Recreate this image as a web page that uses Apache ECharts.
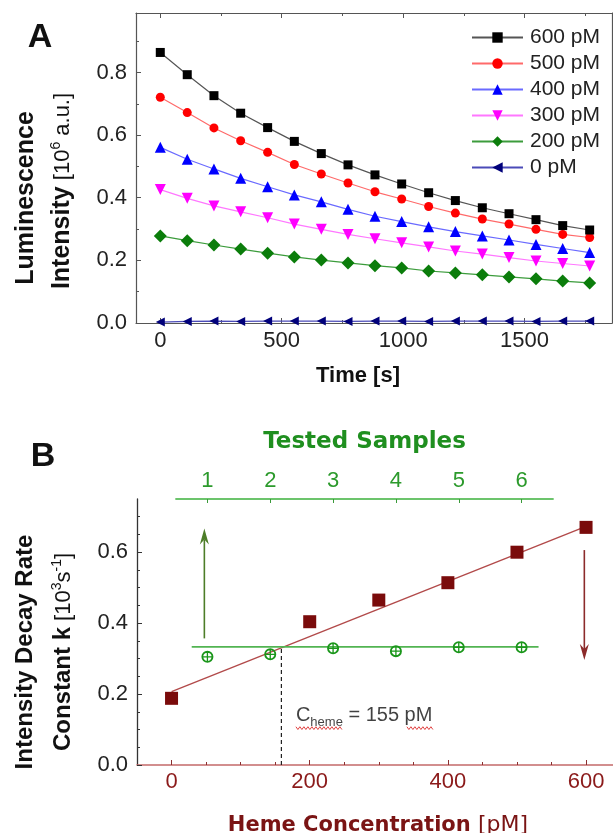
<!DOCTYPE html>
<html><head><meta charset="utf-8">
<script src="https://cdn.jsdelivr.net/npm/echarts@6/dist/echarts.min.js"></script>
<style>html,body{margin:0;padding:0;background:#fff}#c{width:613px;height:833px}</style>
</head><body><div id="c"></div>
<script>
// ---------- Panel A data ----------
const timeS = [0,111,221,331,442,552,663,773,884,994,1105,1215,1326,1436,1547,1657,1768];
const seriesNamesA = ['600 pM','500 pM','400 pM','300 pM','200 pM','0 pM'];
const lum600 = [0.864,0.793,0.726,0.670,0.624,0.580,0.541,0.505,0.473,0.444,0.416,0.391,0.368,0.349,0.330,0.311,0.297];
const lum500 = [0.721,0.672,0.623,0.582,0.545,0.506,0.476,0.447,0.419,0.396,0.372,0.351,0.332,0.316,0.299,0.283,0.273];
const lum400 = [0.561,0.523,0.492,0.462,0.435,0.409,0.387,0.363,0.341,0.324,0.307,0.292,0.278,0.265,0.251,0.238,0.225];
const lum300 = [0.426,0.398,0.374,0.355,0.336,0.316,0.299,0.283,0.269,0.256,0.243,0.230,0.220,0.209,0.198,0.190,0.182];
const lum200 = [0.278,0.263,0.249,0.236,0.223,0.211,0.201,0.192,0.183,0.176,0.166,0.160,0.154,0.147,0.141,0.134,0.128];
const lum0   = [0.003,0.005,0.006,0.005,0.006,0.006,0.006,0.005,0.006,0.006,0.005,0.006,0.006,0.006,0.005,0.006,0.006];
const aXTicks = [0,500,1000,1500];
const aXMinor = [250,750,1250,1750];
const aYTicks = [0,0.2,0.4,0.6,0.8];
const aYMinor = [0.1,0.3,0.5,0.7,0.9];

// ---------- Panel B data ----------
const hemeConc = [0,200,300,400,500,600];
const decayK   = [0.188,0.404,0.465,0.514,0.600,0.670];
const fitLine  = [[0,0.207],[600,0.673]];
const sampleIdx = [1,2,3,4,5,6];
const sampleK   = [0.305,0.312,0.329,0.321,0.332,0.332];
const sampleLevel = [[0.75,0.333],[6.27,0.333]];
const cHemeX = 159, cHemeK = 0.331;
const cHemeLabelAt = [180,0.135];
const arrowsB = [[47.5,0.357,0.667],[597.5,0.606,0.296]]; // x, from, to
const bXTicks = [0,200,400,600];
const bXMinor = [50,100,150,250,300,350,450,500,550];
const bYTicks = [0,0.2,0.4,0.6];
const bYMinor = [0.05,0.1,0.15,0.25,0.3,0.35,0.45,0.5,0.55,0.65,0.7];

// ---------- styles ----------
const FONT = 'Liberation Sans, Arial, sans-serif';
const colorsA = ['#000000','#ff0000','#0000ff','#ff00ff','#0b7d0b','#00007a'];
const lineColorsA = ['#555555','#ff6a6a','#6a6aff','#ff77ff','#3c9c3c','#4b4bb8'];
const symbolsA = ['rect','circle','triangle','path://M0,0 L10,0 L5,9 Z','diamond','path://M0,5 L9,0 L9,10 Z'];
const symSizesA = [9,9,11,11,13,9];
const arrowColors = ['#4d7d28','#8c2b2b'];
const squiggleRuns = [[0,47],[111,137]]; // pixel runs under "heme" and "pM", relative to label anchor

const chart = echarts.init(document.getElementById('c'), null, {renderer:'canvas'});

function xAx(o){ return Object.assign({type:'value', splitLine:{show:false}, axisLabel:{show:false}, axisTick:{show:false}, axisLine:{show:false, onZero:false}}, o); }
function yAx(o){ return Object.assign({type:'value', splitLine:{show:false}, axisLabel:{show:false}, axisTick:{show:false}, axisLine:{show:false, onZero:false}}, o); }

const plain = v => String(v);
const frameA = {onZero:false, show:true, lineStyle:{color:'#555', width:1.2}};
const xAxes = [
  xAx({gridIndex:0, position:'bottom', min:-100, max:1860, axisLine:frameA,
       axisTick:{show:true, inside:true, length:5, customValues:aXTicks, lineStyle:{color:'#555'}},
       axisLabel:{show:true, customValues:aXTicks, formatter:plain, fontSize:22, color:'#222', margin:7, fontFamily:FONT}}),
  xAx({gridIndex:0, position:'bottom', min:-100, max:1860,
       axisTick:{show:true, inside:true, length:3, customValues:aXMinor, lineStyle:{color:'#555'}}}),
  xAx({gridIndex:0, position:'top', min:-100, max:1860, axisLine:frameA,
       axisTick:{show:true, inside:true, length:5, customValues:aXTicks, lineStyle:{color:'#555'}}}),
  xAx({gridIndex:0, position:'top', min:-100, max:1860,
       axisTick:{show:true, inside:true, length:3, customValues:aXMinor, lineStyle:{color:'#555'}}}),
  // B bottom (index 4,5)
  xAx({gridIndex:1, position:'bottom', min:-50, max:639,
       axisLine:{show:true, onZero:false, lineStyle:{color:'#c46a6a', width:1.5}},
       axisTick:{show:true, inside:true, length:5, customValues:bXTicks, lineStyle:{color:'#8a3030'}},
       axisLabel:{show:true, customValues:bXTicks, formatter:plain, fontSize:22, color:'#8b1a1a', margin:6, fontFamily:FONT}}),
  xAx({gridIndex:1, position:'bottom', min:-50, max:639,
       axisTick:{show:true, inside:true, length:3, customValues:bXMinor, lineStyle:{color:'#8a3030'}}}),
  // Samples top axis (index 6)
  xAx({gridIndex:2, position:'top', min:0.5, max:6.5,
       axisLine:{show:true, onZero:false, lineStyle:{color:'#6cc46c', width:1.8}},
       axisTick:{show:true, inside:true, length:4, customValues:sampleIdx, lineStyle:{color:'#3a9a3a'}},
       axisLabel:{show:true, customValues:sampleIdx, formatter:plain, fontSize:22, color:'#2c9a2c', margin:7, fontFamily:FONT},
       name:'Tested Samples', nameLocation:'middle', nameGap:45,
       nameTextStyle:{fontFamily:'DejaVu Sans', fontWeight:'bold', fontSize:23, color:'#1f8f1f'}})
];
const yAxes = [
  yAx({gridIndex:0, position:'left', min:0, max:0.99, axisLine:frameA,
       axisTick:{show:true, inside:true, length:5, customValues:aYTicks, lineStyle:{color:'#555'}},
       axisLabel:{show:true, customValues:aYTicks, formatter:v=>v.toFixed(1), fontSize:22, color:'#222', margin:9, fontFamily:FONT}}),
  yAx({gridIndex:0, position:'left', min:0, max:0.99,
       axisTick:{show:true, inside:true, length:3, customValues:aYMinor, lineStyle:{color:'#555'}}}),
  yAx({gridIndex:0, position:'right', min:0, max:0.99, axisLine:frameA}),
  // B left (3,4)
  yAx({gridIndex:1, position:'left', min:0, max:0.75,
       axisLine:{show:true, onZero:false, lineStyle:{color:'#333', width:1.3}},
       axisTick:{show:true, inside:true, length:5, customValues:bYTicks, lineStyle:{color:'#333'}},
       axisLabel:{show:true, customValues:bYTicks, formatter:v=>v.toFixed(1), fontSize:22, color:'#222', margin:9, fontFamily:FONT}}),
  yAx({gridIndex:1, position:'left', min:0, max:0.75,
       axisTick:{show:true, inside:true, length:3, customValues:bYMinor, lineStyle:{color:'#333'}}}),
  // samples grid y (5)
  yAx({gridIndex:2, position:'left', min:0, max:0.75, show:false})
];

const lumSets = [lum600, lum500, lum400, lum300, lum200, lum0];
const seriesA = lumSets.map((vals, k) => ({
  name: seriesNamesA[k], type:'line', xAxisIndex:0, yAxisIndex:0,
  data: timeS.map((t,i)=>[t, vals[i]]),
  symbol: symbolsA[k], symbolSize: symSizesA[k], showAllSymbol:true,
  itemStyle:{color: colorsA[k], opacity:1},
  lineStyle:{color: lineColorsA[k], width:1.2},
  z: 10 - k
}));

const circlePlus = 'path://M10,0 A10,10 0 1,1 10,20 A10,10 0 1,1 10,0 Z M10,3 A7,7 0 1,0 10,17 A7,7 0 1,0 10,3 Z M2,8.9 L18,8.9 L18,11.1 L2,11.1 Z M8.9,2 L11.1,2 L11.1,18 L8.9,18 Z';

const seriesB = [
  {type:'line', xAxisIndex:4, yAxisIndex:3, data:fitLine, showSymbol:false, symbol:'none',
   lineStyle:{color:'#b24a4a', width:1.4}, z:3},
  {type:'scatter', xAxisIndex:4, yAxisIndex:3, data:hemeConc.map((c,i)=>[c, decayK[i]]),
   symbol:'rect', symbolSize:13, itemStyle:{color:'#7a0b0b', opacity:1}, z:5},
  {type:'line', xAxisIndex:4, yAxisIndex:3, data:[[cHemeX,0],[cHemeX,cHemeK]], symbol:'none',
   lineStyle:{color:'#222', width:1.2, type:[4,3]}, z:2},
  {type:'line', xAxisIndex:6, yAxisIndex:5, data:sampleLevel, symbol:'none',
   lineStyle:{color:'#52b452', width:1.8}, z:3},
  {type:'scatter', xAxisIndex:6, yAxisIndex:5, data:sampleIdx.map((s,i)=>[s, sampleK[i]]),
   symbol:circlePlus, symbolSize:12, itemStyle:{color:'#1a961a', opacity:1}, z:6},
  {type:'scatter', xAxisIndex:4, yAxisIndex:3, data:[cHemeLabelAt], symbolSize:0, silent:true,
   label:{show:true, position:[0,0], align:'left', verticalAlign:'middle',
     formatter:'{m|C}{s|heme}{m| = 155 pM}',
     rich:{
       m:{fontSize:20, color:'#111', fontFamily:FONT, verticalAlign:'bottom', padding:[0,0,4,0]},
       s:{fontSize:13, color:'#111', fontFamily:FONT, verticalAlign:'bottom', padding:[0,0,0,0]}
     }}},
  {type:'custom', xAxisIndex:4, yAxisIndex:3, data:[cHemeLabelAt], silent:true, z:1,
   renderItem:function(params, api){
     const p = api.coord([api.value(0), api.value(1)]);
     const kids = squiggleRuns.map(r => {
       const pts = [];
       for (let dx = r[0], j = 0; dx <= r[1]; dx += 2, j++) pts.push([p[0] + dx, p[1] + 11 + (j % 2 ? 1.4 : -1.4)]);
       return {type:'polyline', shape:{points:pts}, style:{stroke:'#e04040', lineWidth:1, fill:null}};
     });
     return {type:'group', children:kids};
   }},
  {type:'custom', xAxisIndex:4, yAxisIndex:3, data:arrowsB, z:4,
   renderItem:function(params, api){
     const x = api.value(0), y0 = api.value(1), y1 = api.value(2);
     const p0 = api.coord([x,y0]), p1 = api.coord([x,y1]);
     const dir = p1[1] > p0[1] ? 1 : -1;
     const hw = 4.5, hl = 16, notch = 11;
     const col = arrowColors[params.dataIndex];
     return {type:'group', children:[
       {type:'line', shape:{x1:p0[0], y1:p0[1], x2:p1[0], y2:p1[1]-dir*notch}, style:{stroke:col, lineWidth:1.6}},
       {type:'polygon', shape:{points:[[p1[0],p1[1]],[p1[0]-hw,p1[1]-dir*hl],[p1[0],p1[1]-dir*notch],[p1[0]+hw,p1[1]-dir*hl]]}, style:{fill:col}}
     ]};
   }}
];

const option = {
  animation:false,
  textStyle:{fontFamily:FONT},
  grid:[
    {left:136, top:13, width:476, height:310},
    {left:137, top:499, width:476, height:266},
    {left:176, top:499, width:377, height:266}
  ],
  xAxis:xAxes, yAxis:yAxes,
  legend:{orient:'vertical', left:466, top:22, itemWidth:51, itemHeight:13, itemGap:5,
    data:seriesNamesA, textStyle:{fontSize:21, color:'#222', fontFamily:FONT, padding:[0,0,0,2]}},
  series: seriesA.concat(seriesB),
  graphic:[
    {type:'text', x:40, y:38, style:{text:'A', font:'bold 34px Liberation Sans', fill:'#111', align:'center', verticalAlign:'middle'}},
    {type:'text', x:43, y:457, style:{text:'B', font:'bold 34px Liberation Sans', fill:'#111', align:'center', verticalAlign:'middle'}},
    {type:'text', x:26, y:198, rotation:Math.PI/2, style:{text:'Luminescence', font:'bold 25px Liberation Sans', fill:'#111', align:'center', verticalAlign:'middle'}},
    {type:'text', x:62, y:191, rotation:Math.PI/2, style:{
      text:'{b|Intensity}{r| [10}{p|6}{r| a.u.]}', align:'center', verticalAlign:'middle',
      rich:{b:{font:'bold 25px Liberation Sans', fill:'#111', verticalAlign:'bottom'},
            r:{font:'22px Liberation Sans', fill:'#111', verticalAlign:'bottom', padding:[0,0,1,0]},
            p:{font:'14px Liberation Sans', fill:'#111', verticalAlign:'bottom', padding:[0,0,11,0]}}}},
    {type:'text', x:358, y:376, style:{text:'Time [s]', font:'bold 22px Liberation Sans', fill:'#111', align:'center', verticalAlign:'middle'}},
    {type:'text', x:25, y:652, rotation:Math.PI/2, style:{text:'Intensity Decay Rate', font:'bold 24px Liberation Sans', fill:'#111', align:'center', verticalAlign:'middle'}},
    {type:'text', x:63, y:652, rotation:Math.PI/2, style:{
      text:'{b|Constant k}{r| [10}{p|3}{r|s}{p|-1}{r|]}', align:'center', verticalAlign:'middle',
      rich:{b:{font:'bold 24px Liberation Sans', fill:'#111', verticalAlign:'bottom'},
            r:{font:'22px Liberation Sans', fill:'#111', verticalAlign:'bottom', padding:[0,0,1,0]},
            p:{font:'14px Liberation Sans', fill:'#111', verticalAlign:'bottom', padding:[0,0,11,0]}}}},
    {type:'text', x:378, y:825, style:{
      text:'{b|Heme Concentration }{r|[pM]}', align:'center', verticalAlign:'middle',
      rich:{b:{font:'bold 21px DejaVu Sans', fill:'#7a1414', verticalAlign:'bottom'},
            r:{font:'22px DejaVu Sans', fill:'#7a1414', verticalAlign:'bottom'}}}}
  ]
};
chart.setOption(option);
</script></body></html>
